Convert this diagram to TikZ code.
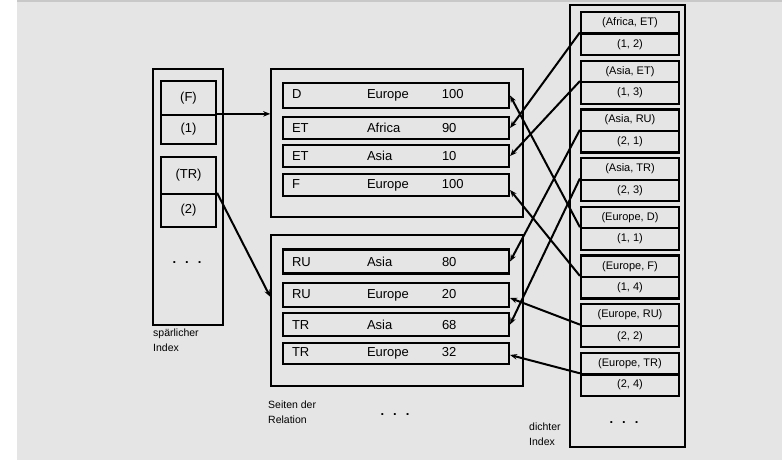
\documentclass[tikz,border=0pt]{standalone}
\usepackage{fontspec}
\setmainfont{Liberation Sans}
\usetikzlibrary{arrows.meta,calc}
\definecolor{bggray}{RGB}{229,229,229}
\definecolor{topgray}{RGB}{200,200,200}
\newcommand{\rowtext}[3]{\makebox[75pt][l]{#1}\makebox[75pt][l]{#2}#3}
\tikzset{
    >={Stealth[length=7pt,width=5.5pt]}, % small filled arrowhead
    frame/.style={draw=black, line width=1.6pt},
    recbox/.style={draw=black, line width=2.2pt, minimum width=226pt,
        minimum height=22.5pt, text width=208pt, align=left,
        inner xsep=9pt, inner ysep=0pt, font=\fontsize{13}{14}\selectfont},
    sparsebox/.style={draw=black, line width=2.2pt, minimum width=55pt,
        inner sep=0pt, font=\fontsize{13}{14}\selectfont},
    densebox/.style={draw=black, line width=2.2pt, minimum width=98pt,
        minimum height=21.5pt, inner sep=0pt, font=\fontsize{11}{13}\selectfont},
    ptr/.style={->, line width=2pt},
    textlabel/.style={anchor=north west, inner sep=0pt, align=left,
        font=\fontsize{10.5}{14.5}\selectfont},
    dots/.style={inner sep=0pt, font=\fontsize{13}{14}\selectfont\bfseries}
}

\begin{document}
\begin{tikzpicture}[x=1pt, y=-1pt]

    % background
    \useasboundingbox (0,0) rectangle (782,460);
    \fill[bggray] (17,-2) rectangle (784,462);
    \fill[topgray] (17,-2) rectangle (784,2);

    % =========================================================================
    % SPARSE INDEX (left)
    % =========================================================================
    \draw[frame] (153,69) rectangle (223,325);
    \node[sparsebox, minimum height=34pt] (f)   at (188.5, 98)   {(F)};
    \node[sparsebox, minimum height=29pt] (f1)  at (188.5,129.5) {(1)};
    \node[sparsebox, minimum height=37pt] (tr)  at (188.5,175.5) {(TR)};
    \node[sparsebox, minimum height=33pt] (tr2) at (188.5,210.5) {(2)};
    \node[dots] (spdots) at (187,263) {.\hspace{9pt}.\hspace{9pt}.};
    \node[textlabel] (splabel) at (153,329) {spärlicher\\Index};

    % =========================================================================
    % PAGES OF THE RELATION (middle)
    % =========================================================================
    \node[frame, minimum width=252pt, minimum height=148pt, inner sep=0pt]
        (page1) at (397,143) {};
    \node[recbox, minimum height=25pt] (Deur) at (396, 95.5) {\rowtext{D}{Europe}{100}};
    \node[recbox] (ETafr) at (396,128)   {\rowtext{ET}{Africa}{90}};
    \node[recbox] (ETasi) at (396,156)   {\rowtext{ET}{Asia}{10}};
    \node[recbox] (Feur)  at (396,185)   {\rowtext{F}{Europe}{100}};

    \node[frame, minimum width=252pt, minimum height=151pt, inner sep=0pt]
        (page2) at (397,310.5) {};
    \node[recbox, minimum height=24pt] (RUasi) at (396,261.5) {\rowtext{RU}{Asia}{80}};
    \node[recbox, minimum height=23.5pt] (RUeur) at (396,295) {\rowtext{RU}{Europe}{20}};
    \node[recbox] (TRasi) at (396,324.5) {\rowtext{TR}{Asia}{68}};
    \node[recbox, minimum height=21.5pt] (TReur) at (396,353.5) {\rowtext{TR}{Europe}{32}};

    \node[textlabel] (pglabel) at (268,401) {Seiten der\\Relation};
    \node[dots] (pgdots) at (395,415) {.\hspace{9pt}.\hspace{9pt}.};

    % =========================================================================
    % DENSE INDEX (right)
    % =========================================================================
    \draw[frame] (570,5) rectangle (685,447);
    \node[densebox] (afet)   at (630, 22.75) {(Africa, ET)};
    \node[densebox] (afet-p) at (630, 44.25) {(1, 2)};
    \node[densebox] (aset)   at (630, 71.45) {(Asia, ET)};
    \node[densebox] (aset-p) at (630, 92.95) {(1, 3)};
    \node[densebox] (asru)   at (630,120.15) {(Asia, RU)};
    \node[densebox] (asru-p) at (630,141.65) {(2, 1)};
    \node[densebox] (astr)   at (630,168.85) {(Asia, TR)};
    \node[densebox] (astr-p) at (630,190.35) {(2, 3)};
    \node[densebox] (eud)    at (630,217.55) {(Europe, D)};
    \node[densebox] (eud-p)  at (630,239.05) {(1, 1)};
    \node[densebox] (euf)    at (630,266.25) {(Europe, F)};
    \node[densebox] (euf-p)  at (630,287.75) {(1, 4)};
    \node[densebox] (euru)   at (630,314.95) {(Europe, RU)};
    \node[densebox] (euru-p) at (630,336.45) {(2, 2)};
    \node[densebox] (eutr)   at (630,363.65) {(Europe, TR)};
    \node[densebox] (eutr-p) at (630,385.15) {(2, 4)};
    \node[dots] (dndots) at (624,423) {.\hspace{9pt}.\hspace{9pt}.};
    \node[textlabel] (dnlabel) at (529,423) {dichter\\Index};

    % =========================================================================
    % POINTERS
    % =========================================================================
    % sparse index -> pages
    \draw[ptr] (f1.north east) -- (f1.north east -| page1.west);
    \draw[ptr] (tr2.north east) -- ($(page2.north west)!0.41!(page2.south west)$);

    % dense index -> records
    \draw[ptr] (afet-p.north west) -- (ETafr.east);
    \draw[ptr] (aset-p.north west) -- (ETasi.east);
    \draw[ptr] (asru-p.north west) -- (RUasi.east);
    \draw[ptr] (astr-p.north west) -- (TRasi.east);
    \draw[ptr] (eud-p.north west)  -- (Deur.east);
    \draw[ptr] (euf-p.north west)  -- ([yshift=-5pt]Feur.east);
    \draw[ptr] (euru-p.north west) -- ([yshift=-3pt]RUeur.east);
    \draw[ptr] (eutr-p.north west) -- ([yshift=-1.5pt]TReur.east);

\end{tikzpicture}
\end{document}
